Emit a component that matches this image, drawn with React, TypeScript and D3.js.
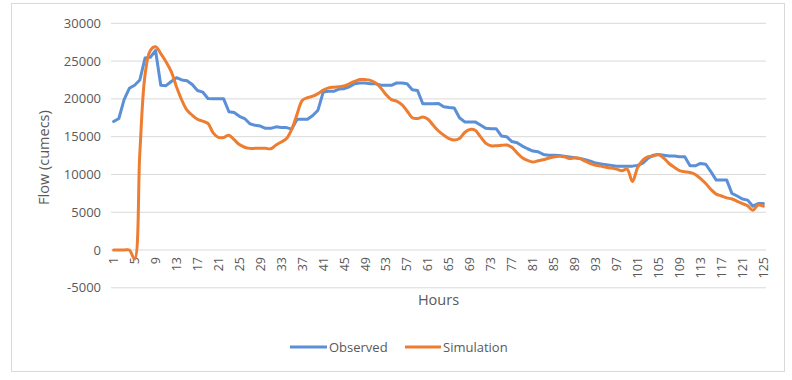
import React from "react";
import * as d3 from "d3";

const hours: number[] = Array.from({ length: 125 }, (_, i) => i + 1);

const observed: number[] = [
  17000, 17400, 19900, 21400, 21800, 22500, 25400, 25500, 26400, 21800,
  21750, 22300, 22800, 22500, 22400, 21900, 21100, 20900, 20050, 20000,
  20000, 20000, 18300, 18200, 17700, 17400, 16700, 16500, 16400, 16100,
  16100, 16300, 16200, 16200, 16000, 17300, 17300, 17300, 17800, 18500,
  20900, 21000, 21000, 21300, 21350, 21600, 22000, 22100, 22100, 22000,
  22000, 21800, 21800, 21800, 22100, 22100, 22000, 21200, 21100, 19350,
  19350, 19350, 19400, 18950, 18850, 18800, 17500, 16950, 16950, 16950,
  16550, 16100, 16050, 16050, 15100, 15000, 14350, 14200, 13750, 13400,
  13100, 13000, 12650, 12550, 12550, 12500, 12400, 12300, 12200, 12100,
  11950, 11750, 11500, 11400, 11300, 11200, 11100, 11100, 11100, 11100,
  11200, 11500, 12150, 12550, 12650, 12550, 12450, 12450, 12350, 12350,
  11150, 11150, 11450, 11350, 10350, 9250, 9250, 9250, 7500, 7150,
  6750, 6600, 5800, 6150, 6150,
];

const simulation: number[] = [
  0, 0, 0, 0, -1200, 12800, 23200, 26400, 26900, 26000,
  24900, 23600, 21600, 19850, 18500, 17850, 17300, 17050, 16750, 15500,
  14900, 14900, 15200, 14600, 13950, 13600, 13450, 13450, 13450, 13450,
  13400, 13900, 14300, 14750, 16000, 17950, 19800, 20150, 20350, 20700,
  21150, 21450, 21550, 21600, 21700, 22000, 22300, 22550, 22550, 22450,
  22100, 21450, 20550, 19900, 19700, 19250, 18400, 17500, 17400, 17600,
  17300, 16500, 15750, 15200, 14750, 14550, 14750, 15550, 15950, 15850,
  15000, 14150, 13800, 13800, 13850, 13900, 13600, 12850, 12200, 11850,
  11650, 11800, 11950, 12150, 12300, 12400, 12350, 12100, 12200, 12100,
  11750, 11450, 11200, 11100, 10950, 10850, 10700, 10500, 10700, 9050,
  10900, 11900, 12350, 12450, 12650, 12150, 11450, 10950, 10500, 10350,
  10250, 10000, 9450, 8800, 8000, 7400, 7150, 6900, 6750, 6450,
  6150, 5850, 5250, 5950, 5800,
];

const yTicks: number[] = [-5000, 0, 5000, 10000, 15000, 20000, 25000, 30000];
const xTickLabels: number[] = hours.filter((h) => (h - 1) % 4 === 0);

const W = 792;
const H = 380;
const FONT = "'Open Sans', 'Liberation Sans', sans-serif";
const TEXT = "#595959";
const GRID = "#D9D9D9";
const BLUE = "#5B8FD6";
const ORANGE = "#ED7D31";

export default function App() {
  const left = 111;
  const right = 766;
  const top = 23.3;
  const bottom = 287.8;

  const x = d3
    .scaleBand<number>()
    .domain(hours)
    .range([left, right])
    .paddingInner(0)
    .paddingOuter(0);
  const cx = (h: number) => (x(h) as number) + x.bandwidth() / 2;
  const y = d3.scaleLinear().domain([-5000, 30000]).range([bottom, top]);

  const obsLine = d3
    .line<number>()
    .x((_, i) => cx(hours[i]))
    .y((d) => y(d))
    .curve(d3.curveLinear);
  const simLine = d3
    .line<number>()
    .x((_, i) => cx(hours[i]))
    .y((d) => y(d))
    .curve(d3.curveCatmullRom.alpha(0.5));

  const y0 = y(0);

  return (
    <svg
      width={W}
      height={H}
      style={{ position: "absolute", left: 0, top: 0, display: "block", background: "#fff" }}
    >
      <rect x={11.5} y={3.5} width={773} height={368} fill="#fff" stroke={GRID} strokeWidth={1} />
      {yTicks.map((t) => (
        <g key={t}>
          <line x1={left} x2={right} y1={y(t)} y2={y(t)} stroke={GRID} strokeWidth={1} />
          <text
            x={101}
            y={y(t)}
            dy="0.35em"
            textAnchor="end"
            fontFamily={FONT}
            fontSize={13}
            fill={TEXT}
          >
            {t}
          </text>
        </g>
      ))}
      {xTickLabels.map((h) => (
        <text
          key={h}
          transform={`translate(${cx(h)},${y0 + 7}) rotate(-90)`}
          dy="0.35em"
          textAnchor="end"
          fontFamily={FONT}
          fontSize={12.5}
          fill={TEXT}
        >
          {h}
        </text>
      ))}
      <path
        d={obsLine(observed) as string}
        fill="none"
        stroke={BLUE}
        strokeWidth={3}
        strokeLinejoin="round"
        strokeLinecap="round"
      />
      <path
        d={simLine(simulation) as string}
        fill="none"
        stroke={ORANGE}
        strokeWidth={3}
        strokeLinejoin="round"
        strokeLinecap="round"
      />
      <text
        x={(left + right) / 2}
        y={300}
        dy="0.35em"
        textAnchor="middle"
        fontFamily={FONT}
        fontSize={14.5}
        fill={TEXT}
      >
        Hours
      </text>
      <text
        transform={`translate(44,${(top + bottom) / 2 + 2}) rotate(-90)`}
        dy="0.35em"
        textAnchor="middle"
        fontFamily={FONT}
        fontSize={14.5}
        fill={TEXT}
      >
        Flow (cumecs)
      </text>
      <g>
        <line x1={290} x2={327} y1={347} y2={347} stroke={BLUE} strokeWidth={3} />
        <text x={329} y={347} dy="0.35em" fontFamily={FONT} fontSize={13} fill={TEXT}>
          Observed
        </text>
        <line x1={405} x2={441} y1={347} y2={347} stroke={ORANGE} strokeWidth={3} />
        <text x={443} y={347} dy="0.35em" fontFamily={FONT} fontSize={13} fill={TEXT}>
          Simulation
        </text>
      </g>
    </svg>
  );
}
